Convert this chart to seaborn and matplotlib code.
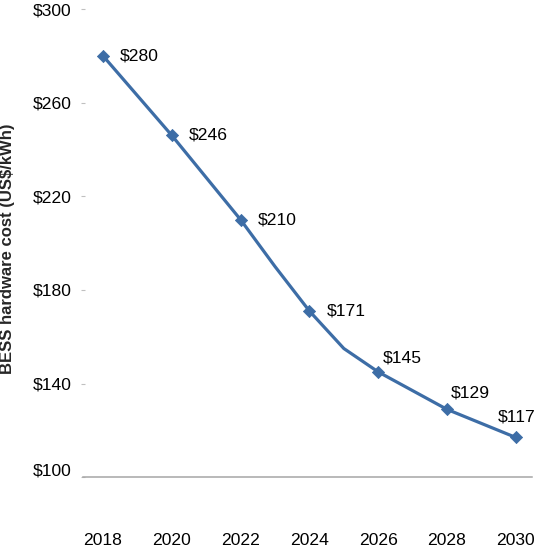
import matplotlib
matplotlib.use("Agg")
import matplotlib.pyplot as plt
import matplotlib.transforms as mtransforms
import seaborn as sns
import pandas as pd

# ---- data ----
years = [2018, 2019, 2020, 2021, 2022, 2023, 2024, 2025, 2026, 2027, 2028, 2029, 2030]
cost = [280, 263, 246, 228, 210, 190, 171, 155, 145, 137, 129, 123, 117]
label_years = [2018, 2020, 2022, 2024, 2026, 2028, 2030]
label_values = [280, 246, 210, 171, 145, 129, 117]
x_ticks = [2018, 2020, 2022, 2024, 2026, 2028, 2030]
y_ticks = [100, 140, 180, 220, 260, 300]
y_title = "BESS hardware cost (US$/kWh)"

# ---- style ----
LINE = "#3D6DA6"
# label offsets in pixels (dx, dy)
label_offsets = [(17, 0), (17, 0), (17, 0), (17, 0), (5, 14), (4, 16), (-18, 20)]

sns.set_theme(style="white")
plt.rcParams["font.family"] = ["Liberation Sans", "DejaVu Sans"]

fig = plt.figure(figsize=(5.4, 5.52), dpi=100)
ax = fig.add_axes([82.7 / 540, 1 - 477.3 / 552, (531.7 - 82.7) / 540, (477.3 - 9) / 552])

line_df = pd.DataFrame({"year": years, "cost": cost})
mark_df = pd.DataFrame({"year": label_years, "cost": label_values})

sns.lineplot(data=line_df, x="year", y="cost", ax=ax, color=LINE, linewidth=2.3,
             clip_on=False, zorder=3)
sns.scatterplot(data=mark_df, x="year", y="cost", ax=ax, color=LINE, marker="D",
                s=38, edgecolor=LINE, linewidth=0.6, clip_on=False, zorder=4)

for yr, val, (dx, dy) in zip(label_years, label_values, label_offsets):
    ax.annotate(f"${val}", xy=(yr, val), xytext=(dx, dy), textcoords="offset pixels",
                ha="left", va="center", fontsize=12.6, color="black")

ax.set_xlim(2017.41, 2030.46)
ax.set_ylim(100, 300)
ax.set_xticks(x_ticks)
ax.set_xticklabels([str(t) for t in x_ticks])
ax.set_yticks(y_ticks)
ax.set_yticklabels([f"${t}" for t in y_ticks])

for s in ["top", "right", "left"]:
    ax.spines[s].set_visible(False)
ax.spines["bottom"].set_color("#A6A6A6")
ax.spines["bottom"].set_linewidth(1.1)

ax.tick_params(axis="x", length=0, pad=40, labelsize=12.6, labelcolor="black")
ax.tick_params(axis="y", length=2.6, width=0.8, direction="inout", color="#C0C0C0",
               pad=7, labelsize=12.6, labelcolor="black", left=True)
ax.grid(False)

ax.set_xlabel("")
ax.set_ylabel(y_title, fontsize=12, fontweight="bold", va="center")
ax.yaxis.set_label_coords((7.5 - 82.7) / 449, (477.3 - 249) / 468.3)

# the lowest y label sits slightly above its baseline in the reference
fig.canvas.draw()
t0 = ax.yaxis.get_major_ticks()[0].label1
t0.set_transform(t0.get_transform() + mtransforms.ScaledTranslation(0, 8 / 100, fig.dpi_scale_trans))

fig.savefig("out.png", dpi=100)
